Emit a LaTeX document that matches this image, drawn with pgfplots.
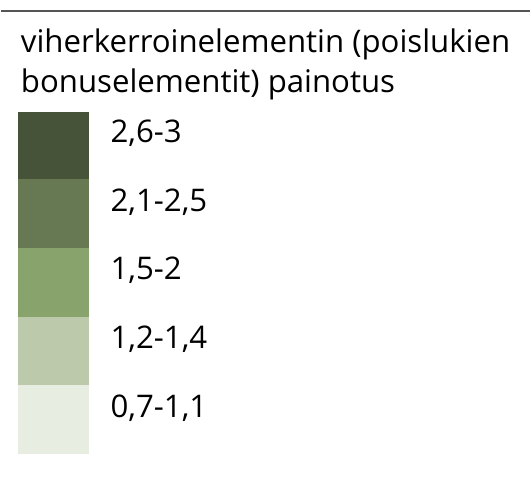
\documentclass[border=0pt]{standalone}
\usepackage{fontspec}
\setmainfont{Open Sans}
\usepackage{pgfplots}
\pgfplotsset{compat=1.18}
\definecolor{cA}{HTML}{475338}
\definecolor{cB}{HTML}{667952}
\definecolor{cC}{HTML}{89A36C}
\definecolor{cD}{HTML}{BCCAAB}
\definecolor{cE}{HTML}{E7EEE1}
\definecolor{lineg}{HTML}{555555}
\tikzset{lbl/.style={font=\fontsize{31.3bp}{40bp}\selectfont, inner sep=0pt, outer sep=0pt, anchor=base west}}
\begin{document}
\begin{tikzpicture}
\begin{axis}[
  hide axis, scale only axis,
  width=531bp, height=498bp,
  xmin=0, xmax=531, ymin=0, ymax=498,
  y dir=reverse, clip=false,
]
% invisible frame corners
\addplot[draw=none] coordinates {(0,0) (531,498)};
% top rule
\addplot[lineg, line width=2bp] coordinates {(0,11) (531,11)};
% swatches
\addplot[fill=cA, draw=none] coordinates {(17,112) (88,112) (88,180.5) (17,180.5)} -- cycle;
\addplot[fill=cB, draw=none] coordinates {(17,180) (88,180) (88,249.5) (17,249.5)} -- cycle;
\addplot[fill=cC, draw=none] coordinates {(17,249) (88,249) (88,318.5) (17,318.5)} -- cycle;
\addplot[fill=cD, draw=none] coordinates {(17,318) (88,318) (88,386.5) (17,386.5)} -- cycle;
\addplot[fill=cE, draw=none] coordinates {(17,386) (88,386) (88,456) (17,456)} -- cycle;
% title
\node[lbl] at (axis cs:20,53) {viherkerroinelementin (poislukien};
\node[lbl] at (axis cs:20,93) {bonuselementit) painotus};
% labels
\node[lbl] at (axis cs:110,143) {2,6-3};
\node[lbl] at (axis cs:110,212) {2,1-2,5};
\node[lbl] at (axis cs:110,281) {1,5-2};
\node[lbl] at (axis cs:110,350) {1,2-1,4};
\node[lbl] at (axis cs:110,419) {0,7-1,1};
\end{axis}
\end{tikzpicture}
\end{document}
